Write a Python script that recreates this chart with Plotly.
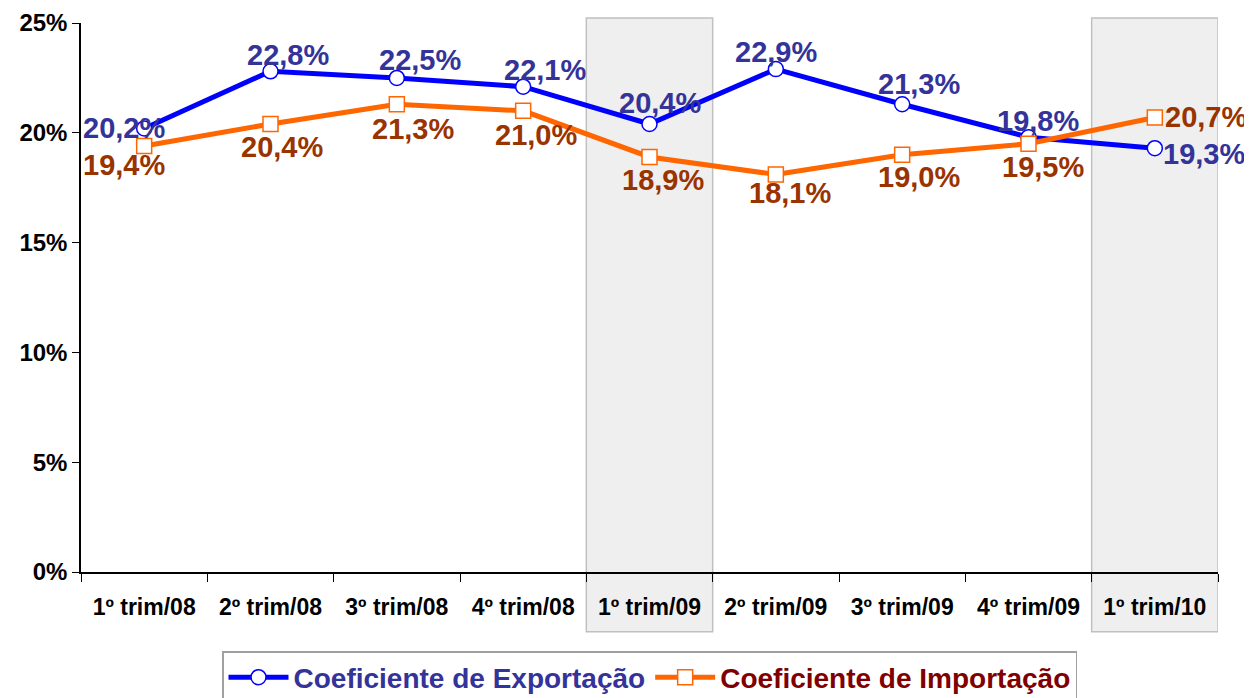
import plotly.graph_objects as go

categories = ["1º trim/08", "2º trim/08", "3º trim/08", "4º trim/08", "1º trim/09",
              "2º trim/09", "3º trim/09", "4º trim/09", "1º trim/10"]
exportacao = [20.2, 22.8, 22.5, 22.1, 20.4, 22.9, 21.3, 19.8, 19.3]
importacao = [19.4, 20.4, 21.3, 21.0, 18.9, 18.1, 19.0, 19.5, 20.7]
highlighted = ["1º trim/09", "1º trim/10"]
y_ticks = [0, 5, 10, 15, 20, 25]

# label offsets (px) - style only
exp_off = [(-20, 0), (17, 16), (23, 18), (22, 17), (10, 21), (0, 17), (17, 20), (9, 16), (49, -6)]
imp_off = [(-20, -19), (11, -23), (16, -25), (13, -24), (13, -23), (14, -18), (17, -22), (14, -23), (51, 0)]

def fmt(v):
    return f"{v:.1f}".replace(".", ",") + "%"

FONT = "Liberation Sans, Arial"
W, H = 1244, 690  # page body has an 8px margin

fig = go.Figure()

for c in highlighted:
    i = categories.index(c)
    fig.add_shape(type="rect", xref="x", yref="paper", x0=i - 0.5, x1=i + 0.5,
                  y0=-0.109, y1=1.009, fillcolor="#EFEFEF",
                  line=dict(color="#C0C0C0", width=1.5), layer="below")

fig.add_trace(go.Scatter(
    x=categories, y=exportacao, mode="lines+markers",
    name="<span style='color:#333399'>Coeficiente de Exportação</span>",
    line=dict(color="#0000FF", width=5),
    marker=dict(symbol="circle", size=15, color="white", line=dict(color="#0000FF", width=1.5)),
))
fig.add_trace(go.Scatter(
    x=categories, y=importacao, mode="lines+markers",
    name="<span style='color:#800000'>Coeficiente de Importação</span>",
    line=dict(color="#FF6600", width=5),
    marker=dict(symbol="square", size=15, color="white", line=dict(color="#FF6600", width=1.5)),
))

for c, v, (dx, dy) in zip(categories, exportacao, exp_off):
    fig.add_annotation(x=c, y=v, text=fmt(v), showarrow=False, xshift=dx, yshift=dy,
                       font=dict(family=FONT, size=29, color="#333399", weight="bold"))
for c, v, (dx, dy) in zip(categories, importacao, imp_off):
    fig.add_annotation(x=c, y=v, text=fmt(v), showarrow=False, xshift=dx, yshift=dy,
                       font=dict(family=FONT, size=29, color="#993300", weight="bold"))

fig.update_layout(
    width=W, height=H,
    margin=dict(l=73, r=34, t=15, b=126, autoexpand=False),
    plot_bgcolor="rgba(0,0,0,0)", paper_bgcolor="white",
    font=dict(family=FONT, color="black"),
    showlegend=True,
    legend=dict(orientation="h", x=0.5, xanchor="center", yref="container",
                y=1 - 643 / H, yanchor="top",
                bordercolor="#A0A0A0", borderwidth=1.5,
                font=dict(family=FONT, size=28, weight="bold"),
                itemwidth=60),
    xaxis=dict(type="category", range=[-0.5, 8.5], showline=True, linecolor="black", linewidth=1.5,
               ticks="outside", tickson="boundaries", ticklen=8, tickcolor="black",
               showgrid=False, automargin=False,
               tickfont=dict(family=FONT, size=23, color="black", weight="bold"),
               ticklabelstandoff=14),
    yaxis=dict(range=[0, 25], tickvals=y_ticks, ticktext=[f"{t}%" for t in y_ticks],
               showline=True, linecolor="black", linewidth=1.5, ticks="outside", ticklen=7,
               tickcolor="black", showgrid=False, zeroline=False, automargin=False,
               tickfont=dict(family=FONT, size=24, color="black", weight="bold")),
)

fig.write_html("out.html")
